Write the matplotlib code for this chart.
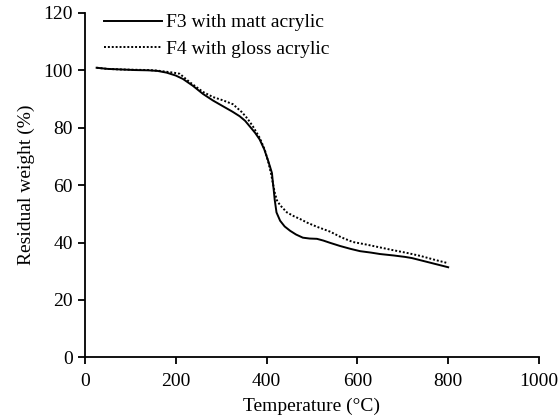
import matplotlib
matplotlib.use("Agg")
import matplotlib.pyplot as plt

plt.rcParams['font.family'] = ['Liberation Serif', 'DejaVu Serif']

# F3 with matt acrylic
temp_f3 = [26, 50, 80, 110, 140, 160, 180, 200, 216, 238, 260, 282, 304, 325, 341, 353, 363, 375, 385, 395, 403, 408, 412, 414, 416, 418, 422, 430, 440, 452, 465, 480, 495, 511, 525, 540, 562, 585, 606, 630, 650, 680, 705, 720, 740, 760, 780, 800]
wt_f3 = [100.9, 100.5, 100.3, 100.1, 100.0, 99.8, 99.2, 98.2, 97.0, 94.6, 91.8, 89.5, 87.5, 85.6, 84.0, 82.4, 80.5, 78.2, 75.9, 72.5, 68.8, 66.3, 64.2, 61.0, 58.2, 55.0, 50.5, 47.6, 45.6, 44.1, 42.8, 41.7, 41.4, 41.3, 40.7, 39.9, 38.8, 37.8, 37.0, 36.5, 36.0, 35.5, 35.0, 34.6, 33.8, 33.0, 32.2, 31.4]

# F4 with gloss acrylic
temp_f4 = [26, 50, 80, 110, 140, 160, 180, 195, 209, 230, 260, 282, 305, 326, 346, 358, 370, 385, 396, 404, 410, 414, 418, 423, 430, 445, 460, 474, 490, 511, 540, 565, 590, 620, 650, 680, 709, 740, 770, 800]
wt_f4 = [100.9, 100.5, 100.3, 100.2, 100.1, 99.9, 99.5, 99.2, 98.8, 96.0, 92.5, 90.7, 89.5, 88.2, 85.4, 83.2, 80.5, 76.5, 72.4, 68.0, 64.0, 60.7, 57.5, 54.7, 53.0, 50.5, 49.2, 48.2, 46.9, 45.5, 43.8, 41.8, 40.2, 39.3, 38.3, 37.3, 36.4, 35.3, 34.0, 32.8]

labels = ["F3 with matt acrylic", "F4 with gloss acrylic"]
xticks = [0, 200, 400, 600, 800, 1000]
yticks = [0, 20, 40, 60, 80, 100, 120]

fig = plt.figure(figsize=(5.58, 4.17), dpi=100)
ax = fig.add_axes([0.152, 0.143, 0.814, 0.826])

ax.plot(temp_f3, wt_f3, color='black', linewidth=1.4, linestyle='-', label=labels[0])
ax.plot(temp_f4, wt_f4, color='black', linewidth=1.4, linestyle=(0, (1, 1)), label=labels[1])

ax.set_xlim(0, 1000)
ax.set_ylim(0, 120)
ax.set_xticks(xticks)
ax.set_yticks(yticks)
ax.spines['top'].set_visible(False)
ax.spines['right'].set_visible(False)
ax.spines['left'].set_linewidth(1.3)
ax.spines['bottom'].set_linewidth(1.3)
ax.tick_params(direction='out', length=5, width=1.3, labelsize=14)
ax.tick_params(axis='x', pad=6.5)

ax.set_xlabel("Temperature (°C)", fontsize=14, labelpad=5)
ax.set_ylabel("Residual weight (%)", fontsize=14, labelpad=6)

ax.legend(loc='upper left', frameon=False, fontsize=14, handlelength=3.0,
          borderaxespad=0.0, bbox_to_anchor=(0.025, 1.02), labelspacing=0.45, handletextpad=0.2)

fig.savefig("out.png", dpi=100)
